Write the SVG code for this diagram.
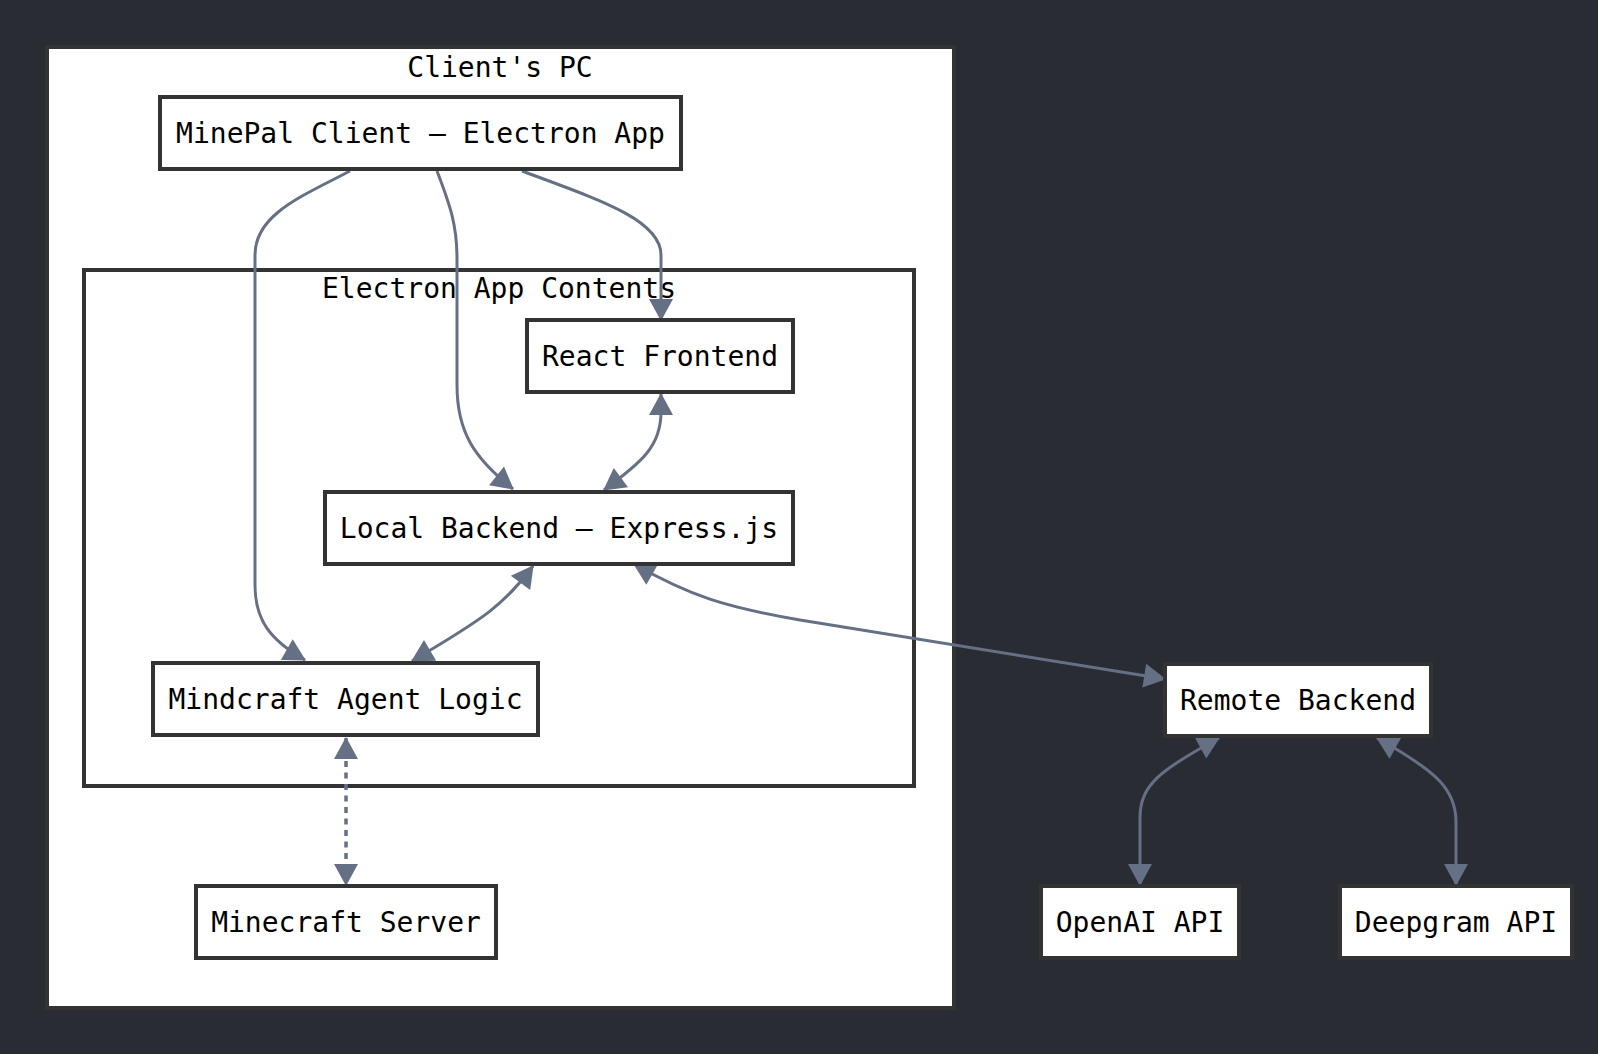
<svg xmlns="http://www.w3.org/2000/svg" width="1598" height="1054" viewBox="0 0 1598 1054">
<style>
.bg{fill:#2a2c34}
.cluster{fill:#ffffff;stroke:#333333;stroke-width:4}
.node rect{fill:#ffffff;stroke:#333333;stroke-width:4}
text{font-family:"DejaVu Sans Mono","Liberation Mono",monospace;font-size:28px;fill:#000000;text-anchor:middle}
.edge{fill:none;stroke:#667085;stroke-width:3}
.dotted{stroke-width:3.5;stroke-dasharray:6,5.5}
.ah{fill:#667085;stroke:none}
</style>
<defs>
<marker id="arrow" markerUnits="userSpaceOnUse" markerWidth="24" markerHeight="24" viewBox="0 0 22 24" refX="21" refY="12" orient="auto-start-reverse">
<path class="ah" d="M0,0 L22,12 L0,24 z"/>
</marker>
</defs>
<rect class="bg" x="0" y="0" width="1598" height="1054"/>
<g id="cluster-clients-pc">
<rect class="cluster" x="47" y="47" width="907" height="961"/>
<text x="500" y="77">Client's PC</text>
</g>
<g id="cluster-electron-app-contents">
<rect class="cluster" x="84" y="270" width="830" height="516"/>
<text x="499" y="298">Electron App Contents</text>
</g>
<g id="connectors">
<path class="edge" d="M350,171 C300,197 255,215 255,255 L255,585 C255,620 270,640 305,660" marker-end="url(#arrow)"/>
<path class="edge" d="M437,171 C450,205 457,225 457,258 L457,385 C457,432 474,458 513,489" marker-end="url(#arrow)"/>
<path class="edge" d="M522,171 C600,200 661,220 661,255 L661,320" marker-end="url(#arrow)"/>
<path class="edge" d="M661,394 L661,412 C661,446 642,462 604,490" marker-start="url(#arrow)" marker-end="url(#arrow)"/>
<path class="edge" d="M533,566 C505,604 485,618 412,661" marker-start="url(#arrow)" marker-end="url(#arrow)"/>
<path class="edge" d="M634,564 C690,596 725,607 800,620 L1165,679" marker-start="url(#arrow)" marker-end="url(#arrow)"/>
<path class="edge" d="M1219,738 C1160,770 1140,785 1140,818 L1140,885" marker-start="url(#arrow)" marker-end="url(#arrow)"/>
<path class="edge" d="M1377,738 C1438,772 1456,790 1456,822 L1456,885" marker-start="url(#arrow)" marker-end="url(#arrow)"/>
<path class="edge dotted" d="M346,738 L346,885" marker-start="url(#arrow)" marker-end="url(#arrow)"/>
</g>
<g id="node-minepal-client" class="node">
<rect x="160" y="97" width="521" height="72"/>
<text x="420.5" y="143">MinePal Client – Electron App</text>
</g>
<g id="node-react-frontend" class="node">
<rect x="527" y="320" width="266" height="72"/>
<text x="660" y="366">React Frontend</text>
</g>
<g id="node-local-backend" class="node">
<rect x="325" y="492" width="468" height="72"/>
<text x="559" y="538">Local Backend – Express.js</text>
</g>
<g id="node-mindcraft-agent" class="node">
<rect x="153" y="663" width="385" height="72"/>
<text x="345.5" y="709">Mindcraft Agent Logic</text>
</g>
<g id="node-minecraft-server" class="node">
<rect x="196" y="886" width="300" height="72"/>
<text x="346" y="932">Minecraft Server</text>
</g>
<g id="node-remote-backend" class="node">
<rect x="1165" y="664" width="266" height="72"/>
<text x="1298" y="710">Remote Backend</text>
</g>
<g id="node-openai-api" class="node">
<rect x="1041" y="886" width="198" height="72"/>
<text x="1140" y="932">OpenAI API</text>
</g>
<g id="node-deepgram-api" class="node">
<rect x="1340" y="886" width="232" height="72"/>
<text x="1456" y="932">Deepgram API</text>
</g>
</svg>
